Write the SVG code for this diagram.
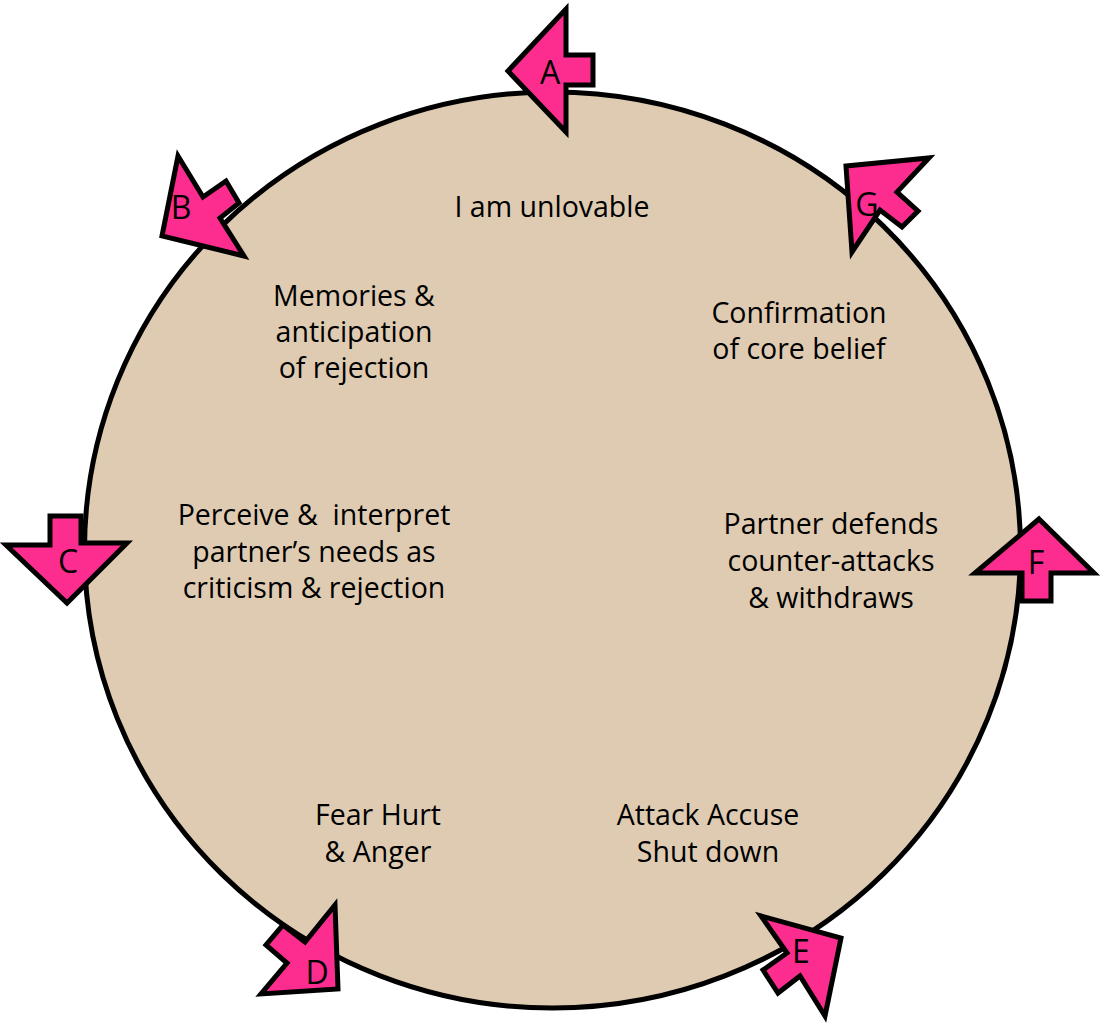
<svg xmlns="http://www.w3.org/2000/svg" width="1102" height="1025" viewBox="0 0 1102 1025">
  <style>
    .ring { fill: #dfcbb2; stroke: #000; stroke-width: 5; }
    .arrow { fill: #fd2c8f; stroke: #000; stroke-width: 5; stroke-linejoin: miter; stroke-miterlimit: 10; }
    .label { font-family: "Open Sans", "Liberation Sans", sans-serif; font-size: 28.5px; fill: #000; text-anchor: middle; }
    .tag { font-family: "Open Sans", "Liberation Sans", sans-serif; font-size: 32px; fill: #000; text-anchor: middle; }
  </style>

  <!-- the cycle -->
  <g id="cycle">
    <ellipse class="ring" cx="552.5" cy="550" rx="468" ry="458"/>
  </g>

  <!-- stage texts around the cycle -->
  <g id="stage-core">
    <text class="label" x="552" y="217">I am unlovable</text>
  </g>
  <g id="stage-memories">
    <text class="label" x="354" y="306">Memories &amp;</text>
    <text class="label" x="354" y="342">anticipation</text>
    <text class="label" x="354" y="378">of rejection</text>
  </g>
  <g id="stage-confirmation">
    <text class="label" x="799" y="323">Confirmation</text>
    <text class="label" x="799" y="359">of core belief</text>
  </g>
  <g id="stage-perceive">
    <text class="label" x="314" y="525" xml:space="preserve">Perceive &amp;  interpret</text>
    <text class="label" x="314" y="562">partner’s needs as</text>
    <text class="label" x="314" y="598">criticism &amp; rejection</text>
  </g>
  <g id="stage-partner">
    <text class="label" x="831" y="534">Partner defends</text>
    <text class="label" x="831" y="571">counter-attacks</text>
    <text class="label" x="831" y="608">&amp; withdraws</text>
  </g>
  <g id="stage-fear">
    <text class="label" x="378" y="825">Fear Hurt</text>
    <text class="label" x="378" y="862">&amp; Anger</text>
  </g>
  <g id="stage-attack">
    <text class="label" x="708" y="825">Attack Accuse</text>
    <text class="label" x="708" y="862">Shut down</text>
  </g>

  <!-- direction markers along the rim -->
  <g id="connectors">
    <g id="arrow-a">
      <polygon class="arrow" points="508,71 566,9 566,55 593,55 593,85 566,85 566,132"/>
      <text class="tag" x="550" y="84">A</text>
    </g>
    <g id="arrow-b">
      <polygon class="arrow" points="178,156 203,197 226,181 239,203 220,218 244,256 162,236"/>
      <text class="tag" x="181" y="219">B</text>
    </g>
    <g id="arrow-c">
      <polygon class="arrow" points="50,516 81,516 81,543 127,543 67,603 6,545 50,545"/>
      <text class="tag" x="68" y="573">C</text>
    </g>
    <g id="arrow-d">
      <polygon class="arrow" points="335,905 338,989 261,994 287,963 266,945 283,925 305,942"/>
      <text class="tag" x="317" y="984">D</text>
    </g>
    <g id="arrow-e">
      <polygon class="arrow" points="761,916 841,938 825,1016 800,976 778,993 763,970 787,953"/>
      <text class="tag" x="801" y="963">E</text>
    </g>
    <g id="arrow-f">
      <polygon class="arrow" points="1039,519 1094,573 1051,573 1051,601 1022,601 1022,573 975,573"/>
      <text class="tag" x="1036" y="574">F</text>
    </g>
    <g id="arrow-g">
      <polygon class="arrow" points="846,166 929,158 897,192 918,211 902,227 880,210 852,252"/>
      <text class="tag" x="867" y="216">G</text>
    </g>
  </g>
</svg>
